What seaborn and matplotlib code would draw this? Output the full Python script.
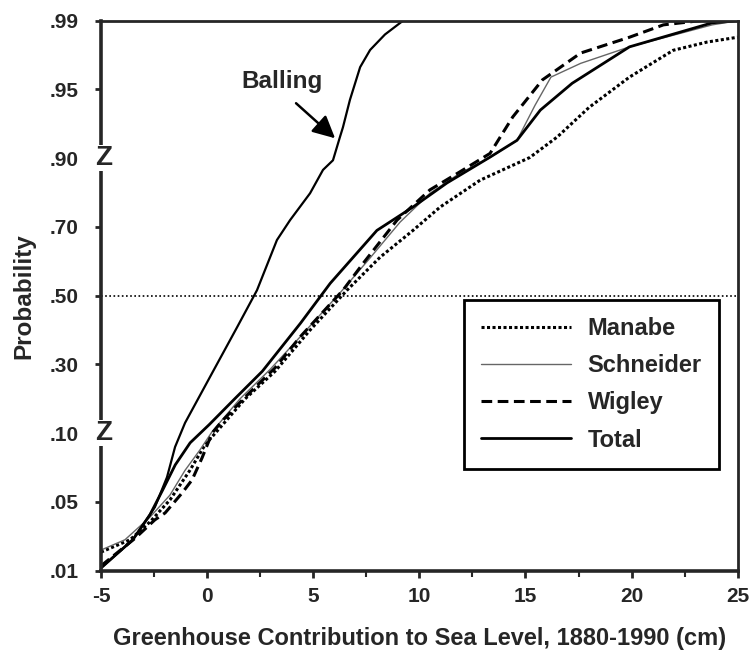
import numpy as np
import pandas as pd
import matplotlib
matplotlib.use("Agg")
import matplotlib.pyplot as plt
import matplotlib.transforms as mtransforms
import seaborn as sns

# probability axis: ticks are equally spaced, not linear in probability
levels = [.01, .05, .10, .30, .50, .70, .90, .95, .99]
level_labels = ['.01', '.05', '.10', '.30', '.50', '.70', '.90', '.95', '.99']
break_levels = [.10, .90]

manabe_x = [-5, -3.63, -2.69, -1.75, -0.81, -0.1, 0.61, 1.79, 3.2, 4.85, 6.59, 8.15,
            9.7, 10.98, 12.86, 15.2, 16.5, 18.0, 19.9, 21.96, 23.56, 25]
manabe_p = [.0208, .028, .0384, .0515, .073, .0915, .116, .20, .28, .40, .516, .612,
            .69, .758, .836, .9005, .9155, .937, .9572, .9728, .9776, .9804]

schneider_x = [-5, -3.87, -2.69, -1.75, -1.04, -0.33, 0.23, 1.55, 2.96, 4.38, 6.26, 7.68,
               9.09, 10.5, 11.9, 13.33, 14.6, 15.45, 16.2, 17.6, 19.9, 23.8, 25]
schneider_p = [.022, .028, .0412, .055, .073, .088, .104, .20, .285, .38, .508, .61,
               .714, .798, .856, .9005, .913, .9385, .9572, .9652, .9748, .9876, .99]

wigley_x = [-5, -3.4, -2.46, -1.98, -1.18, -0.71, -0.24, 0.23, 0.70, 1.79, 3.2, 4.38,
            6.4, 7.35, 8.95, 10.5, 11.9, 13.33, 14.4, 15.8, 17.6, 19.9, 21.5, 23.2, 25]
wigley_p = [.0128, .0288, .0396, .0436, .0565, .066, .082, .10, .135, .205, .29, .38,
            .516, .594, .72, .808, .86, .9035, .93, .9556, .9712, .9804, .9876, .99, .99]

total_x = [-5, -3.5, -2.7, -2.1, -1.5, -0.8, 0.1, 1.3, 2.6, 4.4, 5.8, 8.0,
           9.7, 11.3, 13.3, 14.6, 15.7, 17.2, 19.9, 23.8, 25]
total_p = [.0116, .028, .0424, .0585, .077, .093, .125, .20, .28, .42, .536, .69,
           .758, .828, .9005, .913, .935, .9536, .9748, .9888, .99]

balling_x = [-5, -3.5, -2.46, -1.89, -1.51, -1.04, 0.28, 1.41, 2.35, 3.29, 3.91, 4.85,
             5.46, 5.93, 6.26, 6.40, 6.73, 7.21, 7.68, 8.38, 9.23]
balling_p = [.0116, .028, .047, .068, .09, .13, .28, .408, .516, .662, .72, .798,
             .866, .894, .9155, .9225, .9425, .963, .973, .982, .99]

series = {
    'Manabe': (manabe_x, manabe_p),
    'Schneider': (schneider_x, schneider_p),
    'Wigley': (wigley_x, wigley_p),
    'Total': (total_x, total_p),
    'Balling': (balling_x, balling_p),
}
styles = {
    'Manabe': dict(color='k', lw=2.2, linestyle=(0, (1, 0.8))),
    'Schneider': dict(color='#666666', lw=1.0, linestyle='-'),
    'Wigley': dict(color='k', lw=2.2, linestyle=(0, (3.5, 1.8))),
    'Total': dict(color='k', lw=2.0, linestyle='-'),
    'Balling': dict(color='k', lw=1.6, linestyle='-'),
}

df = pd.concat([pd.DataFrame({'cm': xs, 'prob': ps, 'model': name})
                for name, (xs, ps) in series.items()], ignore_index=True)

sns.set_style('ticks')
plt.rcParams['font.family'] = ['Liberation Sans', 'DejaVu Sans']
plt.rcParams['font.weight'] = 'bold'
plt.rcParams['axes.unicode_minus'] = False

fig = plt.figure(figsize=(7.52, 6.54), dpi=100)
ax = fig.add_axes([0.1343, 0.1274, 0.8467, 0.8409])


def fwd(p):
    return np.interp(p, levels, np.arange(len(levels)))


def inv(v):
    return np.interp(v, np.arange(len(levels)), levels)


ax.set_yscale('function', functions=(fwd, inv))

handles = {}
for name in series:
    sub = df[df['model'] == name]
    sns.lineplot(data=sub, x='cm', y='prob', ax=ax, estimator=None, sort=False,
                 legend=False, **styles[name])
    handles[name] = ax.lines[-1]

ax.axhline(0.5, color='k', lw=1.2, linestyle=(0, (1, 1.5)), zorder=1)

ax.set_xlim(-5, 25)
ax.set_ylim(.01, .99)
ax.set_xticks(np.arange(-5, 26, 5))
ax.set_xticks(np.arange(-2.5, 25, 5), minor=True)
ax.set_yticks(levels)
ax.set_yticklabels(level_labels)
ax.yaxis.set_minor_locator(matplotlib.ticker.NullLocator())
ax.tick_params(axis='x', which='major', length=5, width=2, pad=7, labelsize=15)
ax.tick_params(axis='x', which='minor', length=4, width=1.5)
ax.tick_params(axis='y', length=4, width=2, pad=12, labelsize=15)

for side in ['left', 'bottom']:
    ax.spines[side].set_linewidth(2.6)
for side in ['top', 'right']:
    ax.spines[side].set_linewidth(2.0)
    ax.spines[side].set_visible(True)

# axis break marks on the probability axis
trans = mtransforms.blended_transform_factory(ax.transAxes, ax.transData)
for b in break_levels:
    ax.text(0.004, b, 'Z', transform=trans, ha='center', va='center', fontsize=20,
            fontweight='bold', zorder=6, clip_on=False,
            bbox=dict(fc='white', ec='none', pad=0))

ax.set_xlabel('Greenhouse Contribution to Sea Level, 1880-1990 (cm)',
              fontsize=17, fontweight='bold', labelpad=15)
ax.set_ylabel('Probability', fontsize=17.5, fontweight='bold', labelpad=10)

ax.annotate('', xy=(6.03, .9145), xytext=(4.19, .94),
            arrowprops=dict(arrowstyle='-|>,head_length=0.9,head_width=0.45', lw=1.8,
                            color='k', shrinkA=0, shrinkB=0, mutation_scale=15))
ax.text(3.53, .9544, 'Balling', ha='center', va='center', fontsize=17.5, fontweight='bold')

names = ['Manabe', 'Schneider', 'Wigley', 'Total']
leg = ax.legend([handles[n] for n in names], names, loc='upper left',
                bbox_to_anchor=(0.570, 0.492), borderaxespad=0, frameon=True,
                fancybox=False, edgecolor='k', framealpha=1, handlelength=3.8,
                handletextpad=0.72, labelspacing=0.6, borderpad=0.72,
                prop=dict(weight='bold', size=17))
leg.get_frame().set_linewidth(2)

fig.savefig('out.png', dpi=100)
